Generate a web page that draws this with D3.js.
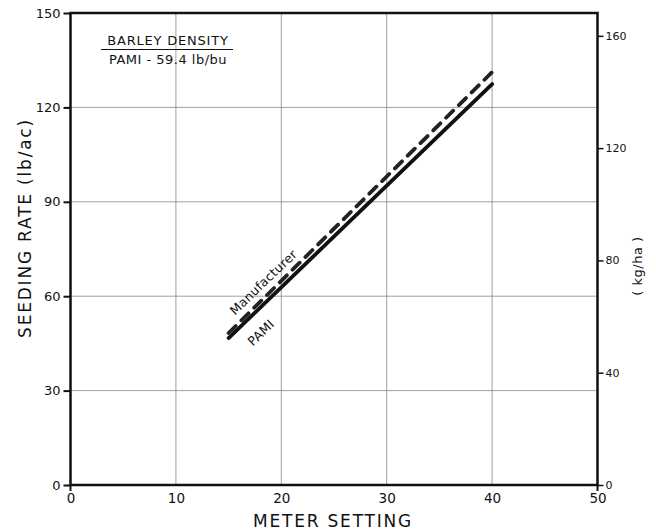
<!DOCTYPE html>
<html><head><meta charset="utf-8">
<script src="https://cdn.jsdelivr.net/npm/d3@7"></script>
<style>body{margin:0;background:#fff}svg{display:block}text{font-family:"DejaVu Sans",sans-serif;fill:#111}</style>
</head><body><svg id="c" width="656" height="531"></svg>
<script>
const xTicks=[0,10,20,30,40,50];
const yTicks=[0,30,60,90,120,150];
const kgTicks=[0,40,80,120,160];
const meterSetting=[15,40];
const manufacturer=[48.3,131.2];
const pami=[46.7,127.4];
const LB_TO_KG=1.1209;

const svg=d3.select("#c");
const L=70.5,R=597.5,T=13,B=485;
const x=d3.scaleLinear().domain([0,50]).range([L,R]);
const y=d3.scaleLinear().domain([0,150]).range([B,T]);
const yk=d3.scaleLinear().domain([0,150*LB_TO_KG]).range([B,T]);

// grid
svg.append("g").selectAll("line").data(xTicks.filter(d=>d>0&&d<50)).join("line")
 .attr("x1",d=>x(d)).attr("x2",d=>x(d)).attr("y1",T).attr("y2",B).attr("stroke","#888").attr("stroke-width",0.8);
svg.append("g").selectAll("line").data(yTicks.filter(d=>d>0&&d<150)).join("line")
 .attr("x1",L).attr("x2",R).attr("y1",d=>y(d)).attr("y2",d=>y(d)).attr("stroke","#888").attr("stroke-width",0.8);

// left axis
const ga=svg.append("g").attr("transform",`translate(${L},0)`).call(d3.axisLeft(y).tickValues(yTicks).tickSize(7).tickPadding(3));
ga.select(".domain").remove();
ga.selectAll("line").attr("stroke","#111").attr("stroke-width",2);
ga.selectAll("text").attr("font-size",13).attr("fill","#111");
// right axis
const gr=svg.append("g").attr("transform",`translate(${R},0)`).call(d3.axisRight(yk).tickValues(kgTicks).tickSize(6).tickPadding(2));
gr.select(".domain").remove();
gr.selectAll("line").attr("stroke","#111").attr("stroke-width",1.5);
gr.selectAll("text").attr("font-size",11).attr("fill","#111");
// bottom axis
const gb=svg.append("g").attr("transform",`translate(0,${B})`).call(d3.axisBottom(x).tickValues(xTicks).tickSize(0).tickPadding(8));
gb.select(".domain").remove();
gb.selectAll("text").attr("font-size",13.5).attr("fill","#111");
svg.append("g").selectAll("line").data([0,50]).join("line")
 .attr("x1",d=>x(d)).attr("x2",d=>x(d)).attr("y1",B).attr("y2",B+6).attr("stroke","#111").attr("stroke-width",2);

// frame
svg.append("rect").attr("x",L).attr("y",T).attr("width",R-L).attr("height",B-T)
 .attr("fill","none").attr("stroke","#111").attr("stroke-width",2.5);

// lines
const line=d3.line().x(d=>x(d[0])).y(d=>y(d[1]));
svg.append("path").datum(meterSetting.map((m,i)=>[m,pami[i]])).attr("d",line)
 .attr("fill","none").attr("stroke","#111").attr("stroke-width",3.8).attr("stroke-linecap","round");
svg.append("path").datum(meterSetting.map((m,i)=>[m,manufacturer[i]])).attr("d",line)
 .attr("fill","none").attr("stroke","#222").attr("stroke-width",3.8).attr("stroke-dasharray","10,8").attr("stroke-linecap","round");

// line labels
const ang=Math.atan2(y(pami[1])-y(pami[0]),x(40)-x(15))*180/Math.PI;
svg.append("text").attr("transform",`translate(${x(15.6)},${y(53.8)}) rotate(${ang})`)
 .attr("font-size",12.5).attr("letter-spacing",0.3).text("Manufacturer");
svg.append("text").attr("transform",`translate(${x(17.3)},${y(44.0)}) rotate(${ang})`)
 .attr("font-size",12.5).attr("letter-spacing",0.3).text("PAMI");

// annotation
svg.append("text").attr("x",168).attr("y",45).attr("text-anchor","middle").attr("font-size",13).attr("letter-spacing",0.8).text("BARLEY DENSITY");
svg.append("line").attr("x1",101).attr("x2",233).attr("y1",49.5).attr("y2",49.5).attr("stroke","#111").attr("stroke-width",1.2);
svg.append("text").attr("x",168).attr("y",64).attr("text-anchor","middle").attr("font-size",13).attr("letter-spacing",0.5).text("PAMI - 59.4  lb/bu");

// axis titles
svg.append("text").attr("transform",`translate(31,228) rotate(-90)`).attr("text-anchor","middle")
 .attr("font-size",17).attr("letter-spacing",1.8).text("SEEDING RATE  (lb/ac)");
svg.append("text").attr("transform",`translate(642,266) rotate(-90)`).attr("text-anchor","middle")
 .attr("font-size",13).attr("letter-spacing",0.5).text("( kg/ha )");
svg.append("text").attr("x",333).attr("y",527).attr("text-anchor","middle")
 .attr("font-size",17).attr("letter-spacing",1.8).text("METER SETTING");
</script></body></html>
